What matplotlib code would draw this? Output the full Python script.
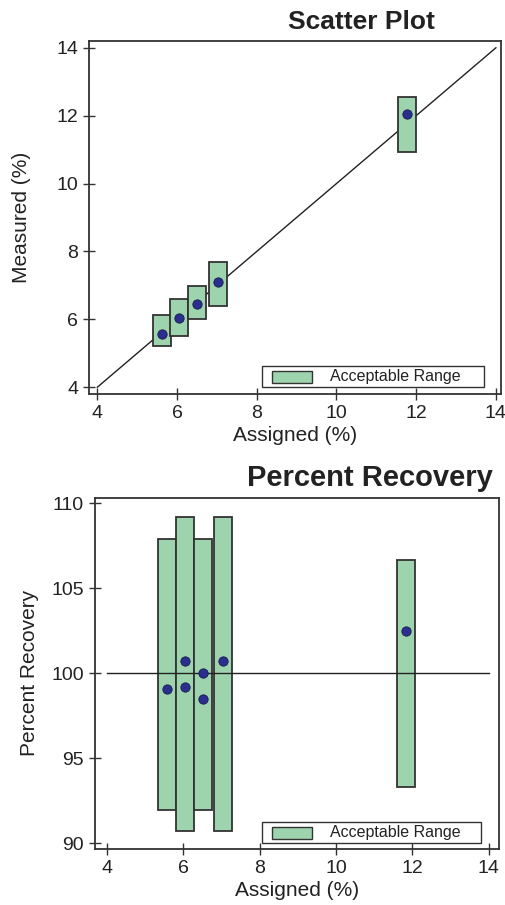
import numpy as np
import matplotlib
matplotlib.use("Agg")
import matplotlib.pyplot as plt
from matplotlib.patches import Rectangle

plt.rcParams['font.family'] = ['Liberation Sans', 'DejaVu Sans']

# scatter plot data
assigned = [5.62, 6.04, 6.50, 7.02, 11.77]
measured = [5.57, 6.05, 6.45, 7.10, 12.06]
range_lo = [5.22, 5.51, 6.00, 6.40, 10.93]
range_hi = [6.13, 6.60, 6.99, 7.69, 12.56]

# percent recovery data
rec_box_x = [5.58, 6.05, 6.52, 7.05, 11.84]
rec_lo = [91.96, 90.72, 91.96, 90.72, 93.29]
rec_hi = [107.92, 109.17, 107.92, 109.17, 106.66]
rec_x = [5.58, 6.05, 6.05, 6.52, 6.52, 7.05, 11.84]
recovery = [99.08, 100.72, 99.18, 100.0, 98.47, 100.72, 102.5]

legend_label = 'Acceptable Range'

box_fill = '#9dd4ae'
edge = '#333333'
dot = '#2a2f8f'
txt = '#222222'

W, H = 506, 905
fig = plt.figure(figsize=(W / 100, H / 100), dpi=100)

def px(x, y):
    # pixel (from top-left) -> figure fraction
    return x / W, 1 - y / H

def style(ax):
    for s in ax.spines.values():
        s.set_color(edge)
        s.set_linewidth(1.3)
    ax.tick_params(direction='inout', length=9, width=1.0, color=edge,
                   labelsize=14, labelcolor=txt)

def legend_box(left, top, right, bottom):
    # framed key: wide box, small swatch, label
    x0, y0 = px(left, bottom)
    x1, y1 = px(right, top)
    fig.add_artist(Rectangle((x0, y0), x1 - x0, y1 - y0, transform=fig.transFigure,
                             facecolor='white', edgecolor=edge, lw=1.0, zorder=5))
    hx0, hy0 = px(left + 10, bottom - 4)
    hx1, hy1 = px(left + 50, top + 5)
    fig.add_artist(Rectangle((hx0, hy0), hx1 - hx0, hy1 - hy0, transform=fig.transFigure,
                             facecolor=box_fill, edgecolor=edge, lw=1.0, zorder=6))
    tx, ty = px(left + 68, (top + bottom) / 2)
    fig.text(tx, ty, legend_label, ha='left', va='center', fontsize=11.5,
             color=txt, zorder=7)

# ---- top: scatter plot
ax1 = fig.add_axes([0.1765, 0.5646, 0.813, 0.3901])
w = 0.45
ax1.plot([4, 14], [4, 14], color=txt, lw=1.0, zorder=1)
for x, lo, hi in zip(assigned, range_lo, range_hi):
    ax1.add_patch(Rectangle((x - w / 2, lo), w, hi - lo, facecolor=box_fill,
                            edgecolor=edge, lw=1.3, zorder=2))
ax1.scatter(assigned, measured, s=45, color=dot, edgecolor='#1a1a4a',
            linewidth=0.6, zorder=3)
ax1.set_xlim(3.8, 14.12)
ax1.set_ylim(3.8, 14.2)
ax1.set_xticks([4, 6, 8, 10, 12, 14])
ax1.set_yticks([4, 6, 8, 10, 12, 14])
style(ax1)
ax1.set_xlabel('Assigned (%)', fontsize=15, labelpad=3, color=txt)
ax1.set_ylabel('Measured (%)', fontsize=15, labelpad=18, color=txt)
legend_box(262, 366, 484, 387)
fig.text(435 / W, 1 - 22 / H, 'Scatter Plot', ha='right', va='center',
         fontsize=19, fontweight='bold', color=txt)

# ---- bottom: percent recovery
ax2 = fig.add_axes([0.1877, 0.0622, 0.7991, 0.3878])
w2 = 0.47
ax2.plot([4, 14], [100, 100], color=txt, lw=1.0, zorder=3)
for x, lo, hi in zip(rec_box_x, rec_lo, rec_hi):
    ax2.add_patch(Rectangle((x - w2 / 2, lo), w2, hi - lo, facecolor=box_fill,
                            edgecolor=edge, lw=1.3, zorder=2))
ax2.scatter(rec_x, recovery, s=45, color=dot, edgecolor='#1a1a4a',
            linewidth=0.6, zorder=4)
ax2.set_xlim(3.69, 14.28)
ax2.set_ylim(89.68, 110.33)
ax2.set_xticks([4, 6, 8, 10, 12, 14])
ax2.set_yticks([90, 95, 100, 105, 110])
style(ax2)
ax2.set_xlabel('Assigned (%)', fontsize=15, labelpad=3, color=txt)
ax2.set_ylabel('Percent Recovery', fontsize=15, labelpad=9, color=txt)
legend_box(262, 822, 481, 843)
fig.text(493 / W, 1 - 478 / H, 'Percent Recovery', ha='right', va='center',
         fontsize=21, fontweight='bold', color=txt)

fig.savefig('out.png', dpi=100)
